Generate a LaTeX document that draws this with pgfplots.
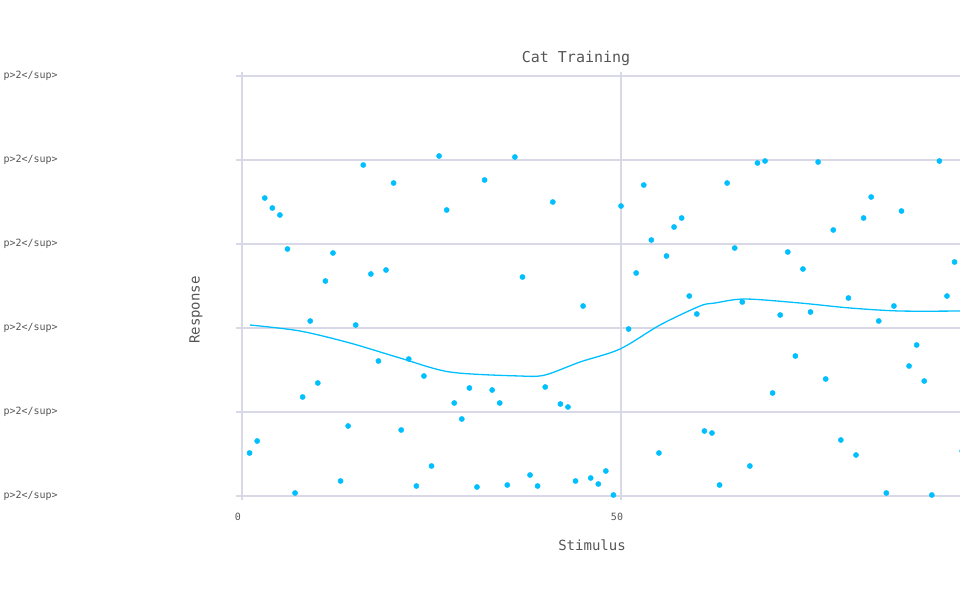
\documentclass[border=0pt]{standalone}
\usepackage{pgfplots}
\pgfplotsset{compat=1.18}
\usepackage{fontspec}
\setmainfont{DejaVu Sans Mono}
\definecolor{pt}{HTML}{00BFFF}
\definecolor{gr}{HTML}{D8D8E6}
\definecolor{tx}{HTML}{555555}
\begin{document}
\begin{tikzpicture}[x=1pt,y=1pt]
\clip (0,0) rectangle (960,600);
\path[use as bounding box] (0,0) rectangle (960,600);
\node[text=tx,font=\fontsize{15}{15}\selectfont] at (576,542) {Cat Training};
\node[text=tx,font=\fontsize{14}{14}\selectfont] at (592,55) {Stimulus};
\node[text=tx,font=\fontsize{14}{14}\selectfont,rotate=90] at (196,290) {Response};
\begin{axis}[at={(242pt,104pt)},anchor=origin,scale only axis,
 width=718pt,height=420pt,xmin=0,xmax=94.72,ymin=0,ymax=5,
 axis line style={draw=none}, major tick length=0pt, clip=false,
 xtick={0,50}, ytick={0,1,2,3,4,5},
 xmajorgrids, ymajorgrids,
 major grid style={gr,line width=1.2pt},
 /pgf/number format/assume math mode=true,
 tick label style={text=tx,font=\fontsize{10}{10}\selectfont},
 xticklabel style={yshift=-14pt,xshift=-4pt},
 yticklabel style={anchor=west,xshift=-242pt},
 yticklabels={p>2</sup>,p>2</sup>,p>2</sup>,p>2</sup>,p>2</sup>,p>2</sup>},
 ]
\draw[gr,line width=1.2pt] (axis cs:0,-0.05) -- (axis cs:0,5.05);
\draw[gr,line width=1.2pt] (axis cs:50,-0.05) -- (axis cs:50,5.05);
\foreach \yy in {0,...,5}{\edef\tmp{\noexpand\draw[gr,line width=1.2pt] (axis cs:-0.8,\yy) -- (axis cs:0,\yy);}\tmp}
\addplot[only marks,mark=*,mark size=2.6pt,pt,mark options={draw=none,fill=pt}] table[x expr=\coordindex+1,y expr=(496-\thisrow{p})/84] {
p
453
441
198
208
215
249
493
397
321
383
281
253
481
426
325
165
274
361
270
183
430
359
486
376
466
156
210
403
419
388
487
180
390
403
485
157
277
475
486
387
202
404
407
481
306
478
484
471
495
206
329
273
185
240
453
256
227
218
296
314
431
433
485
183
248
302
466
163
161
393
315
252
356
269
312
162
379
230
440
298
455
218
197
321
493
306
211
366
345
381
495
161
296
262
451
};
\addplot[pt,line width=1.3pt,smooth] table[x expr=(\thisrow{px}-242)/7.58,y expr=(496-\thisrow{py})/84] {
px py
250 325
300 331
350 343
400 358
450 372
520 376
545 375
580 362
620 349
660 325
700 306
715 303
745 299
800 303
850 308
900 311
960 311
};
\end{axis}
\end{tikzpicture}
\end{document}
